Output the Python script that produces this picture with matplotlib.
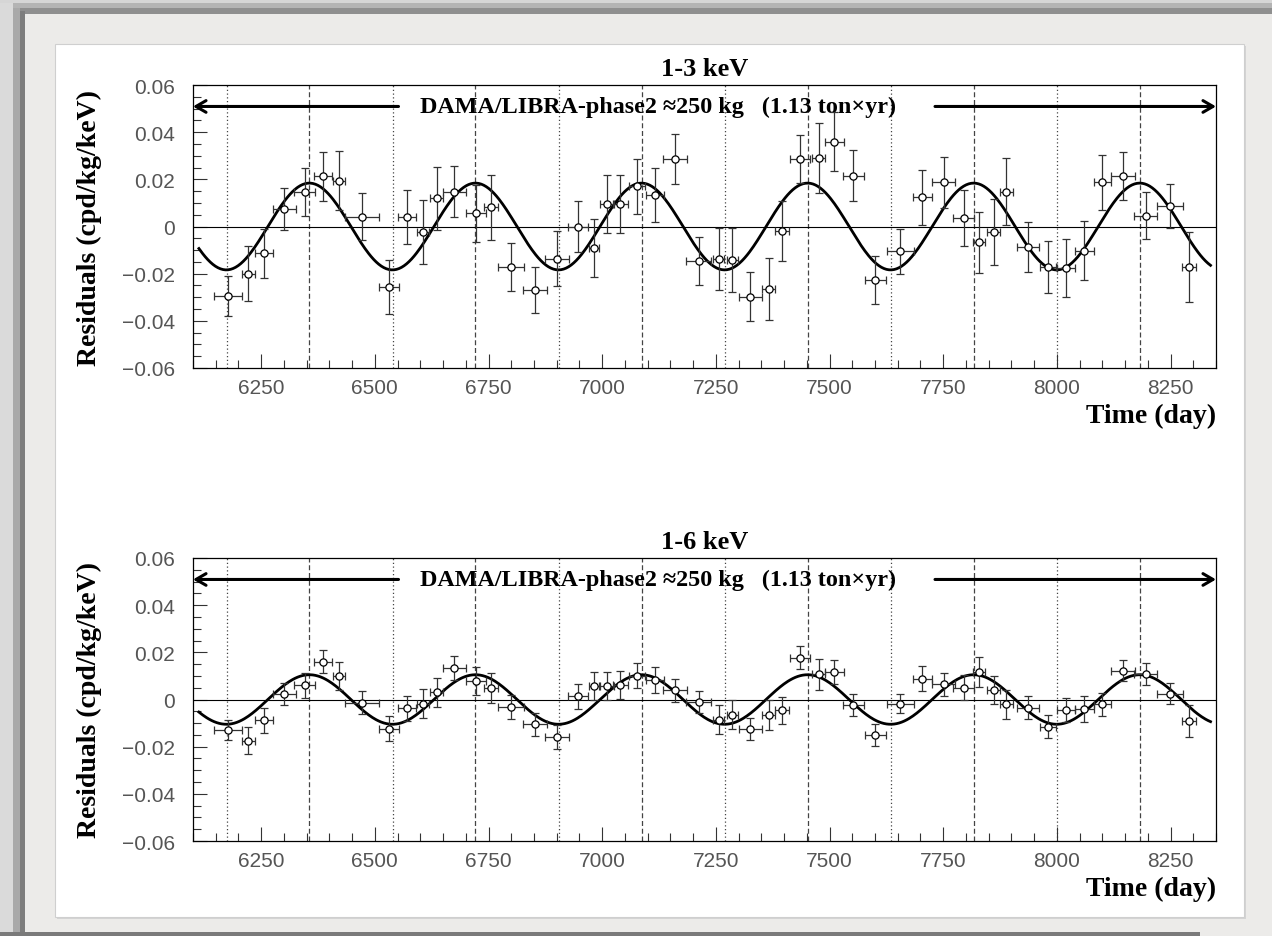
import numpy as np
import matplotlib
matplotlib.use("Agg")
import matplotlib.pyplot as plt
from matplotlib.patches import Rectangle
from matplotlib.ticker import MultipleLocator, FuncFormatter

# ---- data ----
days = [6177, 6222, 6257, 6301, 6346, 6386, 6421, 6472, 6531, 6571,
        6606, 6636, 6675, 6722, 6755, 6799, 6852, 6901, 6947, 6981,
        7011, 7040, 7077, 7116, 7160, 7212, 7256, 7286, 7326, 7366,
        7396, 7436, 7476, 7510, 7552, 7601, 7656, 7704, 7751, 7795,
        7829, 7861, 7889, 7936, 7980, 8020, 8060, 8100, 8145, 8195,
        8249, 8291]
day_err = [31, 14, 20, 25, 23, 20, 14, 38, 23, 20,
           12.5, 14, 26, 22, 15, 28, 26, 26, 22, 11,
           15, 17, 18, 20, 26, 27, 12.5, 12.5, 26, 15,
           15, 22, 15, 21, 23, 23.5, 30, 20.5, 25, 23,
           14, 15, 14, 24, 17, 20, 21, 19, 26, 26,
           29, 15]

res_13 = [-0.0293, -0.0201, -0.0113, 0.0075, 0.0148, 0.0213, 0.0195, 0.0042, -0.0257, 0.0039,
          -0.0024, 0.0119, 0.0148, 0.0056, 0.0081, -0.0170, -0.0269, -0.0137, 0.0000, -0.0092,
          0.0096, 0.0096, 0.0170, 0.0134, 0.0287, -0.0146, -0.0139, -0.0142, -0.0297, -0.0265,
          -0.0019, 0.0287, 0.0290, 0.0360, 0.0216, -0.0226, -0.0106, 0.0123, 0.0187, 0.0035,
          -0.0067, -0.0024, 0.0148, -0.0088, -0.0173, -0.0177, -0.0103, 0.0188, 0.0216, 0.0045,
          0.0087, -0.0173]
err_13 = [0.0085, 0.0117, 0.0104, 0.0089, 0.0102, 0.0105, 0.0124, 0.0099, 0.0113, 0.0115,
          0.0136, 0.0132, 0.0107, 0.0120, 0.0137, 0.0102, 0.0098, 0.0116, 0.0110, 0.0124,
          0.0123, 0.0123, 0.0115, 0.0115, 0.0105, 0.0102, 0.0132, 0.0134, 0.0103, 0.0130,
          0.0129, 0.0102, 0.0147, 0.0124, 0.0109, 0.0102, 0.0096, 0.0116, 0.0107, 0.0119,
          0.0130, 0.0139, 0.0141, 0.0106, 0.0111, 0.0122, 0.0125, 0.0116, 0.0102, 0.0100,
          0.0093, 0.0148]

res_16 = [-0.0130, -0.0175, -0.0088, 0.0023, 0.0061, 0.0160, 0.0099, -0.0013, -0.0123, -0.0038,
          -0.0017, 0.0030, 0.0134, 0.0078, 0.0049, -0.0031, -0.0105, -0.0158, 0.0014, 0.0057,
          0.0057, 0.0061, 0.0100, 0.0082, 0.0040, -0.0010, -0.0085, -0.0064, -0.0126, -0.0066,
          -0.0045, 0.0177, 0.0107, 0.0117, -0.0024, -0.0151, -0.0017, 0.0089, 0.0064, 0.0049,
          0.0117, 0.0040, -0.0021, -0.0035, -0.0116, -0.0045, -0.0042, -0.0020, 0.0122, 0.0107,
          0.0025, -0.0090]
err_16 = [0.0042, 0.0058, 0.0052, 0.0045, 0.0053, 0.0049, 0.0060, 0.0048, 0.0053, 0.0053,
          0.0062, 0.0062, 0.0050, 0.0059, 0.0064, 0.0050, 0.0048, 0.0051, 0.0053, 0.0060,
          0.0060, 0.0060, 0.0053, 0.0054, 0.0049, 0.0046, 0.0060, 0.0060, 0.0046, 0.0062,
          0.0057, 0.0048, 0.0066, 0.0051, 0.0048, 0.0048, 0.0042, 0.0053, 0.0049, 0.0053,
          0.0064, 0.0061, 0.0061, 0.0048, 0.0049, 0.0051, 0.0055, 0.0049, 0.0044, 0.0046,
          0.0044, 0.0068]

# fitted modulation A*cos(2pi/T (t - t0))
amp_13 = 0.0184
amp_16 = 0.0105
period = 365.25
t_peak = 6356.0
fit_start, fit_end = 6113, 8338

# June 2 (dashed) and December (dotted) markers
peak_days = [6356, 6721, 7087, 7452, 7817, 8182]
trough_days = [6174, 6539, 6904, 7270, 7635, 8000]

xticks = [6250, 6500, 6750, 7000, 7250, 7500, 7750, 8000, 8250]
panel_titles = ["1-3 keV", "1-6 keV"]
exposure_text = "DAMA/LIBRA-phase2 \u2248250 kg   (1.13 ton\u00d7yr)"

# ---- figure and background frame ----
W, H = 1272, 937
fig = plt.figure(figsize=(W / 100, H / 100), dpi=100, facecolor="#ecebe9")


def frame_rect(x0, y0, x1, y1, color, **kw):
    # rectangle given in pixels from the top-left corner, drawn behind the axes
    fig.patches.append(Rectangle((x0 / W, 1 - y1 / H), (x1 - x0) / W, (y1 - y0) / H,
                                 transform=fig.transFigure, facecolor=color,
                                 edgecolor=kw.pop("edgecolor", "none"), zorder=-5, **kw))


frame_rect(0, 0, 13, H, "#dadada")
frame_rect(0, 0, W, 4, "#d6d6d6")
frame_rect(13, 4, W, 9, "#b4b4b4")
frame_rect(13, 9, W, 15, "#8f8f8f")
frame_rect(13, 9, 20, H, "#a9a9a9")
frame_rect(20, 12, 25, H, "#7d7d7d")
frame_rect(0, 933, 1200, H, "#7a7a7a")
frame_rect(57, 47, 1246, 920, "#d4d4d4")
frame_rect(55, 45, 1244, 918, "white", edgecolor="#cfcfcf", linewidth=0.8)

serif = ["Liberation Serif", "DejaVu Serif"]
sans = ["Liberation Sans", "DejaVu Sans"]


def y_fmt(v, pos):
    if abs(v) < 1e-9:
        return "0"
    return f"{v:.2f}".replace("-", "\u2212")


axes_px = [(193, 86, 1216, 369), (193, 559, 1216, 842)]
panels = [(res_13, err_13, amp_13), (res_16, err_16, amp_16)]

for (x0, y0, x1, y1), title, (res, err, amp) in zip(axes_px, panel_titles, panels):
    ax = fig.add_axes([x0 / W, 1 - y1 / H, (x1 - x0) / W, (y1 - y0) / H])
    ax.patch.set_alpha(0)
    ax.set_xlim(6100, 8350)
    ax.set_ylim(-0.06, 0.06)

    for d in peak_days:
        ax.axvline(d, color="#444444", lw=0.9, ls=(0, (4, 2.2)), zorder=1)
    for d in trough_days:
        ax.axvline(d, color="#444444", lw=0.9, ls=(0, (1, 2)), zorder=1)
    ax.axhline(0, color="black", lw=0.8, zorder=2)

    t = np.linspace(fit_start, fit_end, 800)
    ax.plot(t, amp * np.cos(2 * np.pi * (t - t_peak) / period), color="black", lw=2.0, zorder=3)

    ax.errorbar(days, res, xerr=day_err, yerr=err, fmt="o", ms=5.2, mfc="white", mec="black",
                mew=0.9, ecolor="#333333", elinewidth=0.9, capsize=2.8, capthick=0.9, zorder=4)

    # exposure arrows and label
    ax.annotate("", xy=(6100, 0.0509), xytext=(6552, 0.0509),
                arrowprops=dict(arrowstyle="->,head_length=0.6,head_width=0.35",
                                lw=2.2, color="black", shrinkA=0, shrinkB=0, mutation_scale=12))
    ax.annotate("", xy=(8350, 0.0509), xytext=(7732, 0.0509),
                arrowprops=dict(arrowstyle="->,head_length=0.6,head_width=0.35",
                                lw=2.2, color="black", shrinkA=0, shrinkB=0, mutation_scale=12))
    ax.text(6600, 0.0509, exposure_text, family=serif, fontweight="bold", fontsize=17.4,
            ha="left", va="center")

    ax.set_title(title, family=serif, fontweight="bold", fontsize=19, pad=7)
    ax.text(1.0, -0.168, "Time (day)", transform=ax.transAxes, family=serif,
            fontweight="bold", fontsize=20, ha="right", va="center")
    ax.text(-0.101, 0.5, "Residuals (cpd/kg/keV)", transform=ax.transAxes, family=serif,
            fontweight="bold", fontsize=20, rotation=90, ha="center", va="center")

    ax.set_xticks(xticks)
    ax.xaxis.set_minor_locator(MultipleLocator(50))
    ax.yaxis.set_major_locator(MultipleLocator(0.02))
    ax.yaxis.set_minor_locator(MultipleLocator(0.005))
    ax.yaxis.set_major_formatter(FuncFormatter(y_fmt))
    ax.tick_params(which="both", direction="in", top=False, right=False, color="#333333", width=0.8)
    ax.tick_params(which="major", length=10)
    ax.tick_params(which="minor", length=5.5)
    ax.tick_params(axis="x", which="major", pad=7)
    ax.tick_params(axis="y", which="major", pad=13)
    for lab in ax.get_xticklabels() + ax.get_yticklabels():
        lab.set_family(sans)
        lab.set_fontsize(15)
        lab.set_color("#555555")
    for s in ax.spines.values():
        s.set_linewidth(0.9)

fig.savefig("out.png", dpi=100, facecolor=fig.get_facecolor())
